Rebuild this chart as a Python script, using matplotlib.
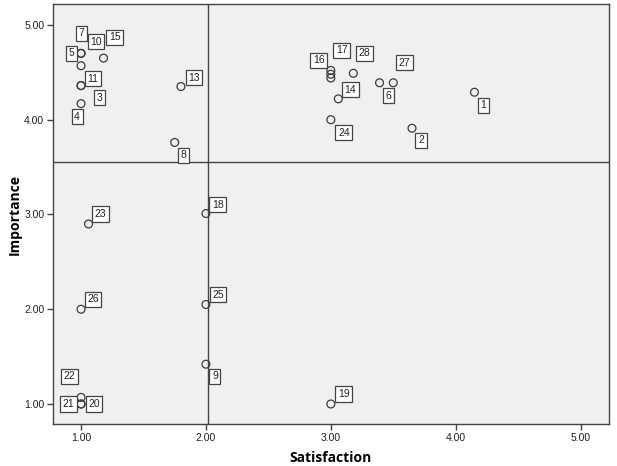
import matplotlib
matplotlib.use('Agg')
import matplotlib.pyplot as plt

# item numbers and their (satisfaction, importance) means
items = [1, 2, 3, 4, 5, 6, 7, 8, 9, 10, 11, 12, 13, 14,
         15, 16, 17, 18, 19, 20, 21, 22, 23, 24, 25, 26, 27, 28]
satisfaction = [4.15, 3.65, 1.00, 1.00, 1.00, 3.39, 1.00, 1.75, 2.00, 1.00, 1.00, 3.00, 1.80, 3.06,
                1.18, 3.00, 3.00, 2.00, 3.00, 1.00, 1.00, 1.00, 1.06, 3.00, 2.00, 1.00, 3.50, 3.18]
importance = [4.29, 3.91, 4.36, 4.17, 4.70, 4.39, 4.70, 3.76, 1.42, 4.57, 4.36, 4.44, 4.35, 4.22,
              4.65, 4.52, 4.48, 3.01, 1.00, 1.00, 1.00, 1.07, 2.90, 4.00, 2.05, 2.00, 4.39, 4.49]

# reference lines (means)
sat_ref = 2.02
imp_ref = 3.55

# label offsets in pixels (dx, dy), None = label hidden
offsets = {
    1: (9, -13), 2: (9, -12), 3: (18, -12), 4: (-4, -13), 5: (-10, 0),
    6: (9, -13), 7: (0, 20), 8: (9, -13), 9: (9, -12), 10: (15, 24),
    11: (12, 7), 12: None, 13: (13, 9), 14: (12, 9), 15: (11, 21),
    16: (-12, 10), 17: (11, 24), 18: (12, 9), 19: (13, 10), 20: (13, 0),
    21: (-13, 0), 22: (-12, 21), 23: (12, 10), 24: (13, -13), 25: (12, 10),
    26: (12, 10), 27: (11, 20), 28: (11, 20),
}

plt.rcParams['font.family'] = ['Liberation Sans', 'DejaVu Sans']

fig = plt.figure(figsize=(6.17, 4.66), dpi=100)
ax = fig.add_axes([0.0854, 0.0895, 0.9016, 0.9013])
ax.set_facecolor('#f0f0f0')

ax.axvline(sat_ref, color='#444444', lw=1.0, zorder=1)
ax.axhline(imp_ref, color='#444444', lw=1.0, zorder=1)

ax.scatter(satisfaction, importance, s=32, facecolors='none',
           edgecolors='#3c3c3c', linewidths=0.9, zorder=3)

for it, x, y in zip(items, satisfaction, importance):
    off = offsets[it]
    if off is None:
        continue
    ax.annotate(str(it), (x, y), xytext=off, textcoords='offset pixels',
                ha='center', va='center', fontsize=7.5, color='#222222', zorder=4,
                bbox=dict(boxstyle='square,pad=0.25', fc='white', ec='#444444', lw=0.9))

ax.set_xlim(0.773, 5.227)
ax.set_ylim(0.786, 5.218)
ax.set_xticks([1, 2, 3, 4, 5])
ax.set_yticks([1, 2, 3, 4, 5])
ax.set_xticklabels(['1.00', '2.00', '3.00', '4.00', '5.00'])
ax.set_yticklabels(['1.00', '2.00', '3.00', '4.00', '5.00'])
ax.tick_params(length=4, width=1, color='#444444', labelsize=7.5, labelcolor='#222222', pad=2)

for sp in ax.spines.values():
    sp.set_color('#444444')
    sp.set_linewidth(1.0)

ax.set_xlabel('Satisfaction', fontsize=10, fontweight='bold', family=['Open Sans', 'DejaVu Sans'], labelpad=6)
ax.set_ylabel('Importance', fontsize=10, fontweight='bold', family=['Open Sans', 'DejaVu Sans'], labelpad=2)

fig.savefig('out.png', dpi=100, facecolor='white')
